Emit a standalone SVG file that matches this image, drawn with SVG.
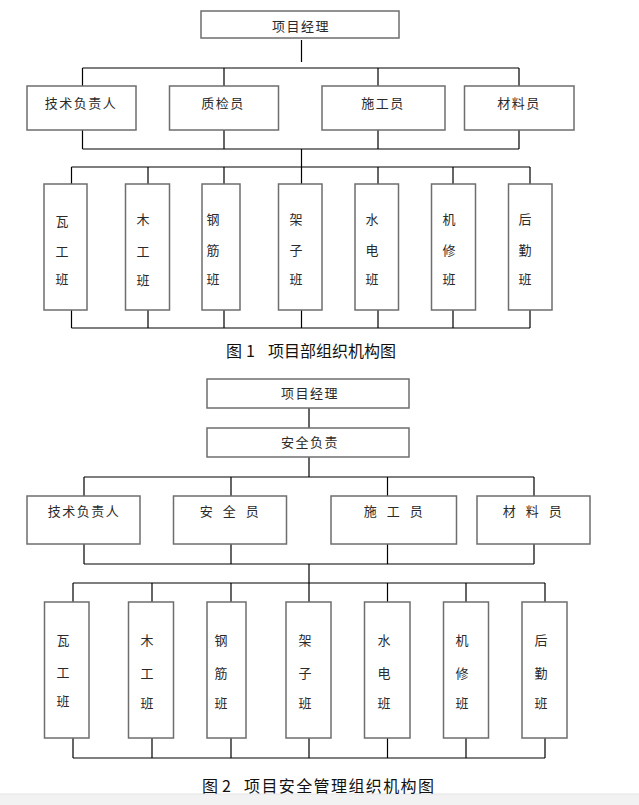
<svg xmlns="http://www.w3.org/2000/svg" width="639" height="805" viewBox="0 0 639 805">
<style>
.box{fill:#fff;stroke:#6e6e6e;stroke-width:1.5}
.ln{stroke:#000;stroke-width:1.2;fill:none}
.lb{font-family:"Noto Sans CJK SC","Noto Sans CJK TC",sans-serif;font-size:13px;fill:#2a2a2a;letter-spacing:1.5px;text-anchor:middle;dominant-baseline:central}
.sp{letter-spacing:3.5px}
.vt{font-family:"Noto Sans CJK SC","Noto Sans CJK TC",sans-serif;font-size:13px;fill:#2a2a2a;text-anchor:middle;dominant-baseline:central}
.cap{font-family:"Noto Sans CJK SC","Noto Sans CJK TC",sans-serif;font-size:16px;fill:#111;dominant-baseline:central}
</style>
<rect x="0" y="0" width="639" height="805" fill="#fff"/>
<rect x="0" y="794" width="639" height="11" fill="#f2f2f2"/>
<line x1="0" y1="794" x2="639" y2="794" stroke="#e4e4e4" stroke-width="1"/>

<!-- Figure 1 connectors -->
<g id="connectors1" class="ln">
<path d="M301.5 40V62"/>
<path d="M82.5 68H519M82.5 68V86M224 68V86M378 68V86M519 68V86"/>
<path d="M82.5 130V149M224 130V149M378 130V149M519 130V149M82.5 149H519"/>
<path d="M301.5 149V167"/>
<path d="M71.5 167H530M71.5 167V184M148 167V184M224 167V184M301.5 167V184M378 167V184M453 167V184M530 167V184"/>
<path d="M71.5 310V328M148 310V328M224 310V328M301.5 310V328M378 310V328M453 310V328M530 310V328M71.5 328H530"/>
</g>

<!-- Figure 1 nodes -->
<g id="f1-pm"><rect class="box" x="201" y="11" width="198" height="27"/><text class="lb" x="301" y="25">项目经理</text></g>
<g id="f1-tech"><rect class="box" x="27" y="86" width="109" height="44"/><text class="lb" x="81" y="102">技术负责人</text></g>
<g id="f1-qc"><rect class="box" x="169.5" y="86" width="109" height="44"/><text class="lb" x="223" y="102">质检员</text></g>
<g id="f1-con"><rect class="box" x="322" y="86" width="123" height="44"/><text class="lb" x="383" y="102">施工员</text></g>
<g id="f1-mat"><rect class="box" x="464.5" y="86" width="109.5" height="44"/><text class="lb" x="519" y="102">材料员</text></g>

<g id="f1-t1"><rect class="box" x="44" y="184" width="43" height="126"/><text class="vt"><tspan x="62" y="220">瓦</tspan><tspan x="62" y="250">工</tspan><tspan x="62" y="278">班</tspan></text></g>
<g id="f1-t2"><rect class="box" x="125.5" y="184" width="44" height="126"/><text class="vt"><tspan x="143" y="218">木</tspan><tspan x="143" y="250">工</tspan><tspan x="143" y="279">班</tspan></text></g>
<g id="f1-t3"><rect class="box" x="202" y="184" width="38" height="126"/><text class="vt"><tspan x="213" y="218">钢</tspan><tspan x="213" y="249">筋</tspan><tspan x="213" y="278">班</tspan></text></g>
<g id="f1-t4"><rect class="box" x="278.5" y="184" width="43.5" height="126"/><text class="vt"><tspan x="296" y="218">架</tspan><tspan x="296" y="249">子</tspan><tspan x="296" y="278">班</tspan></text></g>
<g id="f1-t5"><rect class="box" x="355" y="184" width="43.5" height="126"/><text class="vt"><tspan x="372" y="218">水</tspan><tspan x="372" y="249">电</tspan><tspan x="372" y="278">班</tspan></text></g>
<g id="f1-t6"><rect class="box" x="431.5" y="184" width="44" height="126"/><text class="vt"><tspan x="449" y="218">机</tspan><tspan x="449" y="249">修</tspan><tspan x="449" y="278">班</tspan></text></g>
<g id="f1-t7"><rect class="box" x="508.5" y="184" width="43.5" height="126"/><text class="vt"><tspan x="525" y="218">后</tspan><tspan x="525" y="249">勤</tspan><tspan x="525" y="278">班</tspan></text></g>

<text class="cap" y="350"><tspan x="226">图</tspan><tspan x="246">1</tspan><tspan x="268">项目部组织机构图</tspan></text>

<!-- Figure 2 connectors -->
<g id="connectors2" class="ln">
<path d="M309 408V428M309 457V477"/>
<path d="M84 477H534M84 477V496M231 477V496M387.5 477V496M534 477V496"/>
<path d="M84 544V564M231 544V564M387.5 544V564M534 544V564M84 564H534"/>
<path d="M309 564V583"/>
<path d="M73 583H545M73 583V602M152 583V602M231 583V602M309 583V602M387.5 583V602M466 583V602M545 583V602"/>
<path d="M73 738V758M152 738V758M231 738V758M309 738V758M387.5 738V758M466 738V758M545 738V758M73 758H545"/>
</g>

<!-- Figure 2 nodes -->
<g id="f2-pm"><rect class="box" x="207" y="379" width="202" height="29"/><text class="lb" x="310" y="392">项目经理</text></g>
<g id="f2-safety"><rect class="box" x="207" y="428" width="202" height="29"/><text class="lb" x="310" y="441">安全负责</text></g>
<g id="f2-tech"><rect class="box" x="27" y="496" width="113" height="48"/><text class="lb" x="84" y="510">技术负责人</text></g>
<g id="f2-safe"><rect class="box" x="173.5" y="496" width="113" height="48"/><text class="lb sp" x="231" y="510">安 全 员</text></g>
<g id="f2-con"><rect class="box" x="331" y="496" width="125.5" height="48"/><text class="lb sp" x="395" y="510">施 工 员</text></g>
<g id="f2-mat"><rect class="box" x="477" y="496" width="113" height="48"/><text class="lb sp" x="534" y="510">材 料 员</text></g>

<g id="f2-t1"><rect class="box" x="44.5" y="602" width="44.5" height="136"/><text class="vt"><tspan x="63" y="639">瓦</tspan><tspan x="63" y="671">工</tspan><tspan x="63" y="700">班</tspan></text></g>
<g id="f2-t2"><rect class="box" x="128.5" y="602" width="45" height="136"/><text class="vt"><tspan x="147" y="639">木</tspan><tspan x="147" y="672">工</tspan><tspan x="147" y="702">班</tspan></text></g>
<g id="f2-t3"><rect class="box" x="207" y="602" width="39" height="136"/><text class="vt"><tspan x="221" y="639">钢</tspan><tspan x="221" y="672">筋</tspan><tspan x="221" y="702">班</tspan></text></g>
<g id="f2-t4"><rect class="box" x="286" y="602" width="45" height="136"/><text class="vt"><tspan x="305" y="639">架</tspan><tspan x="305" y="672">子</tspan><tspan x="305" y="702">班</tspan></text></g>
<g id="f2-t5"><rect class="box" x="364.5" y="602" width="45.5" height="136"/><text class="vt"><tspan x="384" y="639">水</tspan><tspan x="384" y="672">电</tspan><tspan x="384" y="702">班</tspan></text></g>
<g id="f2-t6"><rect class="box" x="443.5" y="602" width="45" height="136"/><text class="vt"><tspan x="462" y="639">机</tspan><tspan x="462" y="672">修</tspan><tspan x="462" y="702">班</tspan></text></g>
<g id="f2-t7"><rect class="box" x="522" y="602" width="45" height="136"/><text class="vt"><tspan x="541" y="639">后</tspan><tspan x="541" y="672">勤</tspan><tspan x="541" y="702">班</tspan></text></g>

<text class="cap" y="785"><tspan x="202">图</tspan><tspan x="222">2</tspan><tspan x="244" letter-spacing="1.4">项目安全管理组织机构图</tspan></text>
</svg>
